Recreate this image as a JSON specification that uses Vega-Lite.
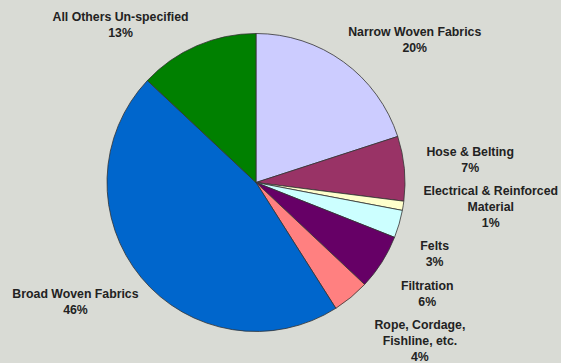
{
  "$schema": "https://vega.github.io/schema/vega-lite/v6.json",
  "width": 512,
  "height": 361,
  "autosize": {"type": "none"},
  "padding": {"left": 0, "top": 2, "right": 49, "bottom": 0},
  "background": "#d9dbd5",
  "config": {"view": {"stroke": null}},
  "data": {
    "values": [
      {"idx": 1, "cat": "Narrow Woven Fabrics", "value": 20, "label": "Narrow Woven Fabrics\n20%"},
      {"idx": 2, "cat": "Hose & Belting", "value": 7, "label": "Hose & Belting\n7%"},
      {"idx": 3, "cat": "Electrical & Reinforced Material", "value": 1, "label": "Electrical & Reinforced\nMaterial\n1%"},
      {"idx": 4, "cat": "Felts", "value": 3, "label": "Felts\n3%"},
      {"idx": 5, "cat": "Filtration", "value": 6, "label": "Filtration\n6%"},
      {"idx": 6, "cat": "Rope, Cordage, Fishline, etc.", "value": 4, "label": "Rope, Cordage,\nFishline, etc.\n4%"},
      {"idx": 7, "cat": "Broad Woven Fabrics", "value": 46, "label": "Broad Woven Fabrics\n46%"},
      {"idx": 8, "cat": "All Others Un-specified", "value": 13, "label": "All Others Un-specified\n13%"}
    ]
  },
  "encoding": {
    "theta": {"field": "value", "type": "quantitative", "stack": true},
    "order": {"field": "idx", "type": "quantitative"}
  },
  "layer": [
    {
      "mark": {"type": "arc", "outerRadius": 149, "stroke": "#333333", "strokeWidth": 0.8},
      "encoding": {
        "color": {
          "field": "cat",
          "type": "nominal",
          "legend": null,
          "scale": {
            "domain": ["Narrow Woven Fabrics", "Hose & Belting", "Electrical & Reinforced Material", "Felts", "Filtration", "Rope, Cordage, Fishline, etc.", "Broad Woven Fabrics", "All Others Un-specified"],
            "range": ["#ccccff", "#993366", "#ffffcc", "#ccffff", "#660066", "#ff8080", "#0066cc", "#008000"]
          }
        }
      }
    },
    {
      "mark": {"type": "text", "radius": 185, "dx": 50, "dy": -1, "align": "center", "baseline": "middle", "lineBreak": "\n", "lineHeight": 16, "font": "Liberation Sans", "fontSize": 12.3, "fontWeight": "bold", "fill": "#222222"},
      "encoding": {"text": {"condition": {"test": "datum.idx == 1", "field": "label"}, "value": ""}}
    },
    {
      "mark": {"type": "text", "radius": 185, "dx": 30, "dy": -13, "align": "center", "baseline": "middle", "lineBreak": "\n", "lineHeight": 16, "font": "Liberation Sans", "fontSize": 12.3, "fontWeight": "bold", "fill": "#222222"},
      "encoding": {"text": {"condition": {"test": "datum.idx == 2", "field": "label"}, "value": ""}}
    },
    {
      "mark": {"type": "text", "radius": 185, "dx": 52, "dy": -20, "align": "center", "baseline": "middle", "lineBreak": "\n", "lineHeight": 16, "font": "Liberation Sans", "fontSize": 12.3, "fontWeight": "bold", "fill": "#222222"},
      "encoding": {"text": {"condition": {"test": "datum.idx == 3", "field": "label"}, "value": ""}}
    },
    {
      "mark": {"type": "text", "radius": 185, "dx": 1, "dy": 12, "align": "center", "baseline": "middle", "lineBreak": "\n", "lineHeight": 16, "font": "Liberation Sans", "fontSize": 12.3, "fontWeight": "bold", "fill": "#222222"},
      "encoding": {"text": {"condition": {"test": "datum.idx == 4", "field": "label"}, "value": ""}}
    },
    {
      "mark": {"type": "text", "radius": 185, "dx": 15, "dy": 4, "align": "center", "baseline": "middle", "lineBreak": "\n", "lineHeight": 16, "font": "Liberation Sans", "fontSize": 12.3, "fontWeight": "bold", "fill": "#222222"},
      "encoding": {"text": {"condition": {"test": "datum.idx == 5", "field": "label"}, "value": ""}}
    },
    {
      "mark": {"type": "text", "radius": 185, "dx": 46, "dy": 0, "align": "center", "baseline": "middle", "lineBreak": "\n", "lineHeight": 16, "font": "Liberation Sans", "fontSize": 12.3, "fontWeight": "bold", "fill": "#222222"},
      "encoding": {"text": {"condition": {"test": "datum.idx == 6", "field": "label"}, "value": ""}}
    },
    {
      "mark": {"type": "text", "radius": 185, "dx": -38, "dy": -6, "align": "center", "baseline": "middle", "lineBreak": "\n", "lineHeight": 16, "font": "Liberation Sans", "fontSize": 12.3, "fontWeight": "bold", "fill": "#222222"},
      "encoding": {"text": {"condition": {"test": "datum.idx == 7", "field": "label"}, "value": ""}}
    },
    {
      "mark": {"type": "text", "radius": 185, "dx": -62, "dy": 4, "align": "center", "baseline": "middle", "lineBreak": "\n", "lineHeight": 16, "font": "Liberation Sans", "fontSize": 12.3, "fontWeight": "bold", "fill": "#222222"},
      "encoding": {"text": {"condition": {"test": "datum.idx == 8", "field": "label"}, "value": ""}}
    }
  ]
}
